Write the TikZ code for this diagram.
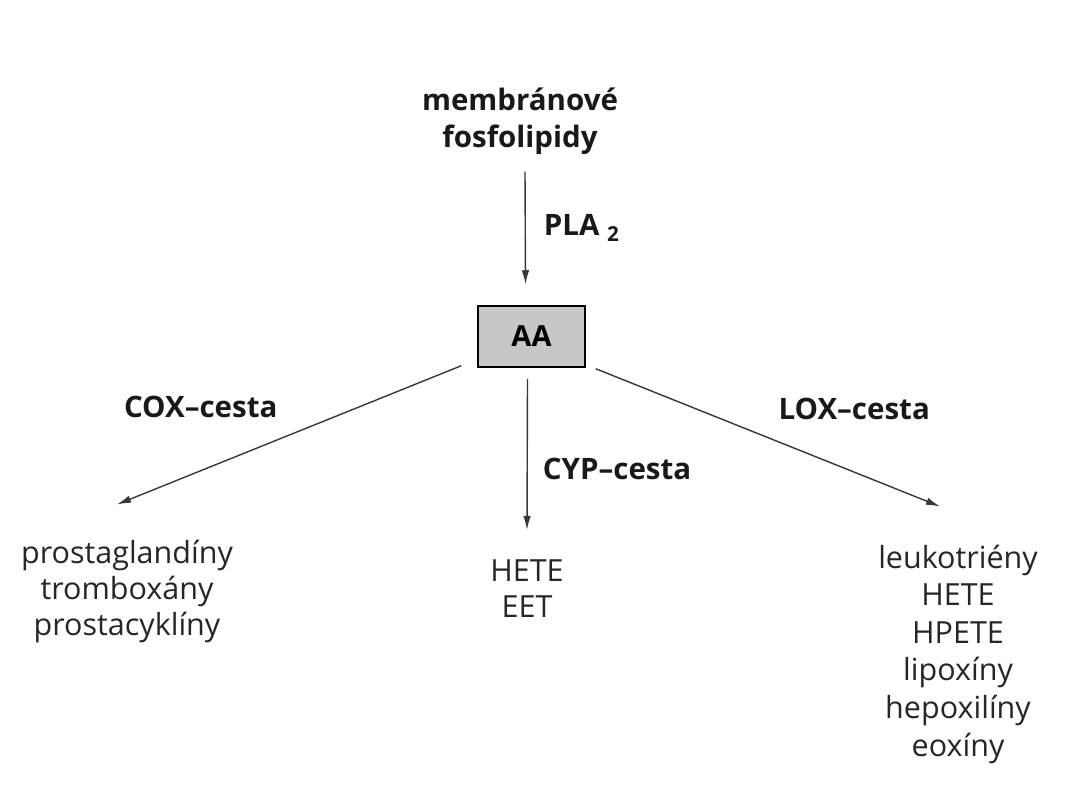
\documentclass[tikz,border=0pt]{standalone}
\usepackage{fontspec}
\setmainfont{Open Sans}
\usetikzlibrary{arrows.meta,positioning}

\begin{document}
\begin{tikzpicture}[x=1pt,y=-1pt,
		arr/.style={-{Latex[length=14pt,width=7.5pt]},draw=black!78,line width=1.4pt},
		lbl/.style={font=\fontsize{29.5}{37}\selectfont\bfseries,inner sep=0pt,text=black!90},
		prod/.style={font=\fontsize{30.5}{36}\selectfont,align=center,inner sep=0pt,text=black!85},
		aa box/.style={draw,line width=1.5pt,fill=black!22,minimum width=107pt,minimum height=61pt,
			inner sep=0pt,font=\fontsize{29}{34}\selectfont\bfseries}]

	\useasboundingbox (0,0) rectangle (1078,800);

	\node[lbl,align=center] (mf) at (520,121) {membránové\\fosfolipidy};
	\node[aa box] (aa) at (531.5,336.5) {AA};
	\node[prod] (pg) at (127,591) {prostaglandíny\\tromboxány\\prostacyklíny};
	\node[prod] (cyp) at (527,589) {HETE\\EET};
	\node[prod,font=\fontsize{30.5}{37.6}\selectfont] (lt) at (958,654)
		{leukotriény\\HETE\\HPETE\\lipoxíny\\hepoxilíny\\eoxíny};

	\draw[arr] ([xshift=5pt,yshift=-17pt]mf.south) -- node[right=18pt,lbl] {PLA \textsubscript{2}}
		([xshift=-6pt,yshift=21pt]aa.north);
	\draw[arr] ([xshift=-16pt,yshift=2pt]aa.south west) -- node[above left=17pt and 11pt,lbl] {COX--cesta}
		([xshift=-10pt,yshift=35pt]pg.north);
	\draw[arr] ([xshift=-4pt,yshift=-11pt]aa.south) -- node[pos=0.6,right=15pt,lbl] {CYP--cesta}
		([yshift=30pt]cyp.north);
	\draw[arr] ([xshift=10pt,yshift=-1pt]aa.south east) -- node[above right=17pt and 10pt,lbl] {LOX--cesta}
		([xshift=-18pt,yshift=38pt]lt.north);
\end{tikzpicture}
\end{document}
